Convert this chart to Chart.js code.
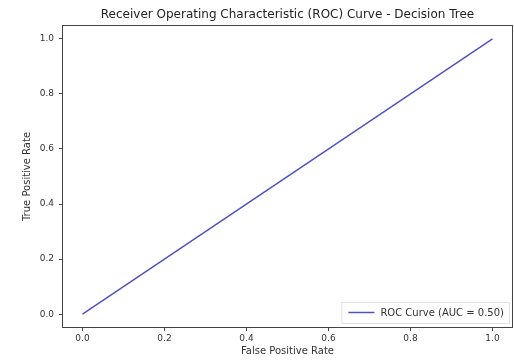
<!DOCTYPE html>
<html>
<head>
<meta charset="utf-8">
<script src="https://cdn.jsdelivr.net/npm/chart.js@4"></script>
<style>
  html, body { margin: 0; padding: 0; background: #fff; }
</style>
</head>
<body>
<canvas id="rocChart" width="514" height="360"></canvas>
<script>
// ROC data
const fpr = [0.0, 1.0];
const tpr = [0.0, 1.0];
const tickValues = [0.0, 0.2, 0.4, 0.6, 0.8, 1.0];
const seriesLabel = 'ROC Curve (AUC = 0.50)';
const chartTitle = 'Receiver Operating Characteristic (ROC) Curve - Decision Tree';

const FONT = 'DejaVu Sans';
const lineColor = '#5450c4';

// full box around the axes, title centred over the plot, legend bottom right
const mplLook = {
  id: 'mplLook',
  afterDraw(chart) {
    const { ctx, chartArea: a } = chart;
    ctx.save();
    ctx.strokeStyle = '#444';
    ctx.lineWidth = 1;
    ctx.strokeRect(a.left + 0.5, a.top + 0.5, a.right - a.left - 1, a.bottom - a.top - 1);

    ctx.fillStyle = '#222';
    ctx.font = '12px "' + FONT + '"';
    ctx.textAlign = 'center';
    ctx.textBaseline = 'middle';
    ctx.fillText(chartTitle, (a.left + a.right) / 2, 15);

    // legend
    const ds = chart.data.datasets[0];
    ctx.font = '10px "' + FONT + '"';
    const tw = ctx.measureText(ds.label).width;
    const boxW = tw + 44, boxH = 21;
    const bx = a.right - 4 - boxW, by = a.bottom - 5 - boxH;
    ctx.fillStyle = 'rgba(255,255,255,0.8)';
    ctx.strokeStyle = '#e2e2e2';
    ctx.fillRect(bx, by, boxW, boxH);
    ctx.strokeRect(bx + 0.5, by + 0.5, boxW, boxH);
    ctx.strokeStyle = ds.borderColor;
    ctx.lineWidth = 1.5;
    ctx.beginPath();
    ctx.moveTo(bx + 7, by + boxH / 2);
    ctx.lineTo(bx + 33, by + boxH / 2);
    ctx.stroke();
    ctx.fillStyle = '#333';
    ctx.textAlign = 'left';
    ctx.fillText(ds.label, bx + 39, by + boxH / 2 + 0.5);
    ctx.restore();
  }
};

const tickFont = { family: FONT, size: 9 };
const labelFont = { family: FONT, size: 10 };

new Chart(document.getElementById('rocChart'), {
  type: 'scatter',
  data: {
    datasets: [{
      label: seriesLabel,
      data: fpr.map((x, i) => ({ x: x, y: tpr[i] })),
      showLine: true,
      borderColor: lineColor,
      backgroundColor: lineColor,
      borderWidth: 1.5,
      pointRadius: 0,
      tension: 0
    }]
  },
  options: {
    responsive: false,
    animation: false,
    devicePixelRatio: 1,
    layout: { padding: { left: 0, top: 25, right: 1, bottom: 0 } },
    plugins: {
      legend: { display: false },
      tooltip: { enabled: false },
      title: { display: false }
    },
    scales: {
      x: {
        type: 'linear',
        min: -0.05,
        max: 1.05,
        afterBuildTicks: axis => { axis.ticks = tickValues.map(v => ({ value: v })); },
        afterFit: axis => { axis.height = 32; },
        border: { display: false },
        grid: { drawOnChartArea: false, drawTicks: true, tickLength: 3, color: '#444' },
        ticks: {
          color: '#333',
          font: tickFont,
          padding: 2,
          maxRotation: 0,
          callback: v => v.toFixed(1)
        },
        title: {
          display: true,
          text: 'False Positive Rate',
          color: '#333',
          font: labelFont,
          padding: { top: 0, bottom: 3 }
        }
      },
      y: {
        type: 'linear',
        min: -0.05,
        max: 1.05,
        afterBuildTicks: axis => { axis.ticks = tickValues.map(v => ({ value: v })); },
        afterFit: axis => { axis.width = 62; },
        border: { display: false },
        grid: { drawOnChartArea: false, drawTicks: true, tickLength: 3, color: '#444' },
        ticks: {
          color: '#333',
          font: tickFont,
          padding: 5,
          callback: v => v.toFixed(1)
        },
        title: {
          display: true,
          text: 'True Positive Rate',
          color: '#333',
          font: labelFont,
          padding: { top: 21, bottom: 0 }
        }
      }
    }
  },
  plugins: [mplLook]
});
</script>
</body>
</html>
